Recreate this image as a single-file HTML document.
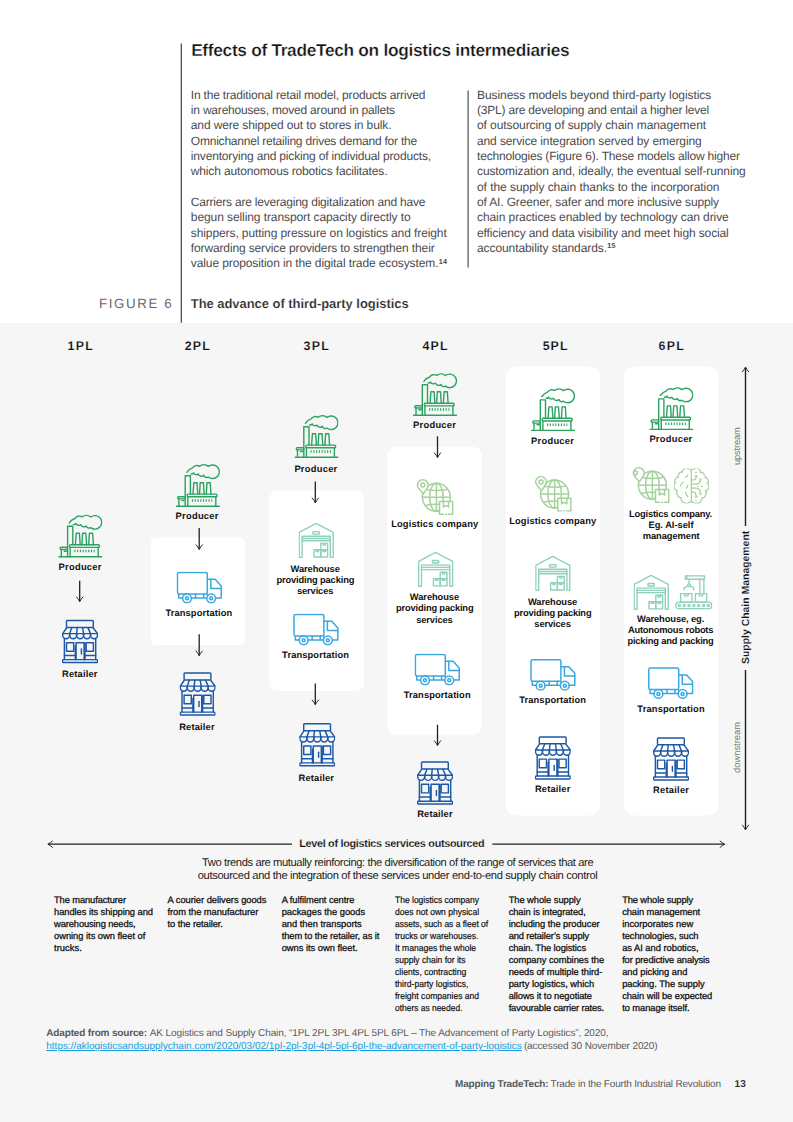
<!DOCTYPE html>
<html lang="en"><head><meta charset="utf-8"><title>Mapping TradeTech - page 13</title>
<style>
html,body{margin:0;padding:0}
body{width:793px;height:1122px;position:relative;overflow:hidden;background:#fff;font-family:"Liberation Sans", sans-serif;text-rendering:geometricPrecision}
.fig{position:absolute;left:0;top:322.8px;width:793px;height:799.2px;background:#f6f6f6}
.t{position:absolute;margin:0;white-space:pre;font-weight:400}
.r{position:absolute;width:0;height:0;transform-origin:0 0}
svg.g{position:absolute;left:0;top:0}
</style></head>
<body>
<div class="fig"></div>
<svg class="g" width="793" height="1122" viewBox="0 0 793 1122">
<defs><symbol id="factory" viewBox="0 0 44 44"><g fill="none" stroke="#2ba360" stroke-width="1.4" stroke-linecap="round" stroke-linejoin="round"><path d="M0.4 42.8H43.5"/><path d="M9.3 42.8V12.3H14.5V30.7"/><path d="M17.1 30.7L17.9 19.3H21.1L21.9 30.7"/><path d="M23.6 30.7L24.3 19.3H27.5L28.3 30.7"/><path d="M30.4 30.7L31.1 19.3H34.3L35.1 30.7"/><rect x="11.3" y="30.7" width="29.8" height="2.7" rx="0.9"/><path d="M11.9 33.4V42.8M39.9 33.4V42.8"/><rect x="1.8" y="33.3" width="7.5" height="2.2" rx="0.9"/><path d="M3 35.5V42.8M6 37.2H8.2"/><path d="M16 37.1H36.4" stroke-width="2.5" stroke-dasharray="1.15 1.62" stroke-linecap="butt"/><path d="M10.9 8.9Q13.2 5.7 16.6 4.5A5 5 0 0 1 23.6 2.9A7 7 0 0 1 32.5 3A6.8 6.8 0 1 1 32.3 13.6A2.8 2.8 0 0 1 28 11.9A3.4 3.4 0 0 1 22.4 10.6A3 3 0 0 1 17.6 9.4A1.8 1.8 0 0 1 15.1 10.4"/></g></symbol><symbol id="store" viewBox="0 0 36 45"><g fill="none" stroke="#1c58a7" stroke-width="1.45" stroke-linejoin="round" stroke-linecap="round"><rect x="4.5" y="1.5" width="26.8" height="6.9" rx="0.8"/><path d="M4.5 9L0.7 14.6H35.5L31.3 9"/><path d="M9.86 8.6L7.66 14.6"/><path d="M15.22 8.6L14.62 14.6"/><path d="M20.58 8.6L21.58 14.6"/><path d="M25.94 8.6L28.54 14.6"/><path d="M0.70 14.6V16.3A3.48 3.48 0 0 0 7.66 16.3V14.6"/><path d="M7.66 14.6V16.3A3.48 3.48 0 0 0 14.62 16.3V14.6"/><path d="M14.62 14.6V16.3A3.48 3.48 0 0 0 21.58 16.3V14.6"/><path d="M21.58 14.6V16.3A3.48 3.48 0 0 0 28.54 16.3V14.6"/><path d="M28.54 14.6V16.3A3.48 3.48 0 0 0 35.50 16.3V14.6"/><path d="M2.4 19.4V40.6M33.7 19.4V40.6"/><rect x="4.5" y="23.7" width="7.2" height="8.6"/><rect x="24.2" y="23.7" width="7.2" height="8.6"/><path d="M14.1 40.6V23.7H22.1V40.6M23 24V40.6M13.3 27V40.6" /><path d="M19.4 30V34.9"/><path d="M2.4 36.5H13.3M23 36.5H33.7"/><rect x="0.6" y="40.6" width="34.9" height="2.9" rx="0.8"/></g></symbol><symbol id="truck" viewBox="0 0 46 32"><g fill="none" stroke="#3aa7e1" stroke-width="1.5" stroke-linejoin="round" stroke-linecap="round"><rect x="1" y="1" width="29.9" height="21.5" rx="1.6"/><path d="M30.9 7.9H38.8L44.8 14.5V26.5H39.3"/><path d="M34.4 7.9V17.2H44.8"/><path d="M2.3 22.5V26.5H6.1M15.1 26.5H30.3M19.2 22.5V26.5M27.2 22.5V26.5M30.9 22.5V24"/><circle cx="10.6" cy="26.9" r="4.4"/><circle cx="10.6" cy="26.9" r="1.5"/><circle cx="34.8" cy="26.9" r="4.4"/><circle cx="34.8" cy="26.9" r="1.5"/></g></symbol><symbol id="globe" viewBox="0 0 38 36"><g fill="none" stroke="#a5d29d" stroke-width="1.5" stroke-linejoin="round" stroke-linecap="round"><circle cx="20.4" cy="18.3" r="14"/><ellipse cx="20.4" cy="18.3" rx="6.8" ry="14"/><path d="M20.4 4.3V32.3M6.4 18.3H34.4"/><path d="M9.2 10.2Q20.4 12.6 31.6 10.2M9.2 26.4Q20.4 24 31.6 26.4"/><path d="M6.8 0.8A5.4 5.4 0 0 1 12.2 6.2C12.2 9.4 8.6 12.4 7.4 14.8C5.6 12.2 1.4 9.4 1.4 6.2A5.4 5.4 0 0 1 6.8 0.8Z" fill="#fff"/><circle cx="6.8" cy="6.1" r="2"/><rect x="23.5" y="22.4" width="13.2" height="12.9" fill="#fff" stroke="none"/><path d="M27.3 35.3H23.5V22.4H36.7V35.3H32.6M29.6 35.3H30.4"/><path d="M27.3 22.4V28.1L29.95 26.4L32.6 28.1V22.4"/></g></symbol><symbol id="globe2" viewBox="0 0 38 36"><g fill="none" stroke="#a5d29d" stroke-width="1.5" stroke-linejoin="round" stroke-linecap="round"><circle cx="20.4" cy="18.3" r="14"/><ellipse cx="20.4" cy="18.3" rx="6.8" ry="14"/><path d="M20.4 4.3V32.3M6.4 18.3H34.4"/><path d="M9.2 10.2Q20.4 12.6 31.6 10.2M9.2 26.4Q20.4 24 31.6 26.4"/><path d="M6.8 0.8A5.4 5.4 0 0 1 12.2 6.2C12.2 9.4 8.6 12.4 7.4 14.8C5.6 12.2 1.4 9.4 1.4 6.2A5.4 5.4 0 0 1 6.8 0.8Z" fill="#fff"/><circle cx="3.5" cy="6.1" r="2"/><rect x="23.5" y="22.4" width="13.2" height="12.9" fill="#fff" stroke="none"/><path d="M27.3 35.3H23.5V22.4H36.7V35.3H32.6M29.6 35.3H30.4"/><path d="M27.3 22.4V28.1L29.95 26.4L32.6 28.1V22.4"/></g></symbol><symbol id="warehouse" viewBox="0 0 36 36"><g fill="none" stroke="#8fd2ba" stroke-width="1.4" stroke-linejoin="round" stroke-linecap="round"><path d="M0.6 34.8V9.8L17.5 0.8L34.6 9.8V34.8H31.7V13.6H3.5V34.8Z"/><path d="M3.5 15.9H31.7M3.5 18.1H31.7"/><rect x="14.4" y="9" width="6.3" height="2.5" rx="0.4"/><rect x="22.2" y="20.8" width="6.8" height="6.4"/><path d="M24.50 20.8V22.5H26.70V20.8"/><rect x="15.4" y="27.2" width="6.8" height="7.2"/><path d="M17.70 27.2V28.9H19.90V27.2"/><rect x="22.2" y="27.2" width="6.8" height="7.2"/><path d="M24.50 27.2V28.9H26.70V27.2"/></g></symbol><symbol id="brain" viewBox="0 0 35 35"><g fill="none" stroke="#a5d29d" stroke-width="1.25" stroke-linejoin="round" stroke-linecap="round"><path d="M17.37 2.66A2.28 2.28 0 0 0 14.31 0.60A2.76 2.76 0 0 0 9.87 0.99A2.01 2.01 0 0 0 8.21 3.77A2.16 2.16 0 0 0 5.16 5.43A2.09 2.09 0 0 0 4.60 8.76A2.24 2.24 0 0 0 1.55 10.70A2.24 2.24 0 0 0 1.55 14.31A2.01 2.01 0 0 0 0.44 17.36A2.62 2.62 0 0 0 2.10 21.25A1.10 1.10 0 0 0 3.49 22.36A2.41 2.41 0 0 0 3.49 26.24A2.96 2.96 0 0 0 7.38 29.02A1.75 1.75 0 0 0 7.93 31.79A2.45 2.45 0 0 0 10.98 34.29A2.43 2.43 0 0 0 14.87 33.73A1.96 1.96 0 0 0 17.37 31.79"/><path d="M17.37 2.66A2.28 2.28 0 0 1 20.42 0.60A2.76 2.76 0 0 1 24.86 0.99A2.08 2.08 0 0 1 26.24 4.04A2.54 2.54 0 0 1 29.85 5.99A2.18 2.18 0 0 1 30.96 9.32A2.10 2.10 0 0 1 33.74 11.26A2.26 2.26 0 0 1 33.18 14.87A2.08 2.08 0 0 1 34.57 17.92A2.31 2.31 0 0 1 32.90 21.25A1.24 1.24 0 0 1 31.24 22.36A2.59 2.59 0 0 1 31.52 26.52A2.72 2.72 0 0 1 27.91 29.02A1.80 1.80 0 0 1 27.08 31.79A2.58 2.58 0 0 1 23.75 34.29A2.43 2.43 0 0 1 19.86 33.73A1.96 1.96 0 0 1 17.37 31.79"/><path d="M17.37 2.66V31.79"/><path d="M17.37 11.26H20.14Q22.08 11.15 22.08 8.59"/><circle cx="22.08" cy="7.65" r="1.05" stroke-width="0.9"/><path d="M17.37 15.70H22.64Q25.97 15.42 26.30 11.92"/><circle cx="26.41" cy="10.98" r="1.05" stroke-width="0.9"/><path d="M17.37 19.58H22.64Q25.97 20.03 26.30 24.19"/><circle cx="26.41" cy="25.13" r="1.05" stroke-width="0.9"/><path d="M17.37 23.74H19.86Q21.97 24.02 22.08 27.24"/><circle cx="22.08" cy="28.18" r="1.05" stroke-width="0.9"/><path d="M24.02 17.92h0.4M27.35 17.92h1.2M21.53 3.77h1M21.53 31.79h0.8" /><path d="M11.26 8.93Q13.48 8.21 13.87 6.37M6.43 17.47Q6.82 14.59 9.43 13.76M12.37 19.47Q13.76 18.47 13.76 16.81M11.43 23.74Q11.82 26.24 13.76 28.02"/></g></symbol><symbol id="robot" viewBox="0 0 37.5 35"><g fill="none" stroke="#8fd2ba" stroke-width="1.35" stroke-linejoin="round" stroke-linecap="round"><rect x="0.7" y="27.6" width="36.1" height="6.6" rx="3.3"/><circle cx="4.30" cy="30.9" r="1.05"/><circle cx="9.15" cy="30.9" r="1.05"/><circle cx="14.00" cy="30.9" r="1.05"/><circle cx="18.85" cy="30.9" r="1.05"/><circle cx="23.70" cy="30.9" r="1.05"/><circle cx="28.55" cy="30.9" r="1.05"/><circle cx="33.40" cy="30.9" r="1.05"/><rect x="5.6" y="19.1" width="11.4" height="8.5"/><path d="M9.60 19.1V21.3H13.00V19.1"/><rect x="20.4" y="19.1" width="11.3" height="8.5"/><path d="M24.35 19.1V21.3H27.75V19.1"/><rect x="10.2" y="1.3" width="19.3" height="3.4"/><path d="M24.9 4.7V19.1M28.9 4.7V19.1M12 1.3V4.7"/><path d="M14.1 4.7V9.3"/><circle cx="14.1" cy="10.8" r="1.5"/><path d="M12.9 11.7L9 13.4V15.6M15.3 11.7L18.8 13.4V15.6"/></g></symbol></defs>
<rect x="150.8" y="537.6" width="94.6" height="107.4" rx="5.5" fill="#fff"/>
<rect x="269.2" y="490.7" width="94.8" height="200.3" rx="8" fill="#fff"/>
<rect x="387.4" y="446.8" width="94.6" height="288.0" rx="9" fill="#fff"/>
<rect x="505.8" y="366.4" width="94.5" height="449.1" rx="11" fill="#fff"/>
<rect x="623.9" y="366.4" width="94.5" height="449.1" rx="11" fill="#fff"/>
<path d="M181.3 43.6V322.8" stroke="#414042" stroke-width="1.2"/>
<path d="M468.1 90.5V267.4" stroke="#414042" stroke-width="1.1"/>
<path d="M79.7 580.8V601.4000000000001" fill="none" stroke="#231f20" stroke-width="1.3"/><path d="M76.55 597.00Q78.60 599.30 79.7 601.7Q80.80 599.30 82.85 597.00" fill="none" stroke="#231f20" stroke-width="0.95" stroke-linecap="round"/>
<path d="M199.2 528.0V549.2" fill="none" stroke="#231f20" stroke-width="1.3"/><path d="M196.05 544.80Q198.10 547.10 199.2 549.5Q200.30 547.10 202.35 544.80" fill="none" stroke="#231f20" stroke-width="0.95" stroke-linecap="round"/>
<path d="M199.2 634.2V655.4000000000001" fill="none" stroke="#231f20" stroke-width="1.3"/><path d="M196.05 651.00Q198.10 653.30 199.2 655.7Q200.30 653.30 202.35 651.00" fill="none" stroke="#231f20" stroke-width="0.95" stroke-linecap="round"/>
<path d="M315.3 481.4V502.5" fill="none" stroke="#231f20" stroke-width="1.3"/><path d="M312.15 498.10Q314.20 500.40 315.3 502.8Q316.40 500.40 318.45 498.10" fill="none" stroke="#231f20" stroke-width="0.95" stroke-linecap="round"/>
<path d="M315.3 683.4V704.4000000000001" fill="none" stroke="#231f20" stroke-width="1.3"/><path d="M312.15 700.00Q314.20 702.30 315.3 704.7Q316.40 702.30 318.45 700.00" fill="none" stroke="#231f20" stroke-width="0.95" stroke-linecap="round"/>
<path d="M437.5 436.3V457.3" fill="none" stroke="#231f20" stroke-width="1.3"/><path d="M434.35 452.90Q436.40 455.20 437.5 457.6Q438.60 455.20 440.65 452.90" fill="none" stroke="#231f20" stroke-width="0.95" stroke-linecap="round"/>
<path d="M437.5 724.7V745.2" fill="none" stroke="#231f20" stroke-width="1.3"/><path d="M434.35 740.80Q436.40 743.10 437.5 745.5Q438.60 743.10 440.65 740.80" fill="none" stroke="#231f20" stroke-width="0.95" stroke-linecap="round"/>
<path d="M745.5 526V367.4" fill="none" stroke="#231f20" stroke-width="1.4"/><path d="M742.35 371.80Q744.40 369.50 745.5 367.1Q746.60 369.50 748.65 371.80" fill="none" stroke="#231f20" stroke-width="0.95" stroke-linecap="round"/>
<path d="M745.5 670V829.5" fill="none" stroke="#231f20" stroke-width="1.4"/><path d="M742.35 825.10Q744.40 827.40 745.5 829.8Q746.60 827.40 748.65 825.10" fill="none" stroke="#231f20" stroke-width="0.95" stroke-linecap="round"/>
<path d="M292 844.2H48.1" fill="none" stroke="#231f20" stroke-width="1.3"/><path d="M52.50 841.05Q50.20 843.10 47.8 844.2Q50.20 845.30 52.50 847.35" fill="none" stroke="#231f20" stroke-width="0.95" stroke-linecap="round"/>
<path d="M492.3 844.2H724.5" fill="none" stroke="#231f20" stroke-width="1.3"/><path d="M720.10 841.05Q722.40 843.10 724.8 844.2Q722.40 845.30 720.10 847.35" fill="none" stroke="#231f20" stroke-width="0.95" stroke-linecap="round"/>
<use href="#factory" x="58.3" y="514.0" width="44" height="44"/>
<use href="#factory" x="175.9" y="463.4" width="44" height="44"/>
<use href="#factory" x="294.5" y="414.4" width="44" height="44"/>
<use href="#factory" x="413.0" y="372.5" width="44" height="44"/>
<use href="#factory" x="531.0" y="387.6" width="44" height="44"/>
<use href="#factory" x="649.4" y="386.6" width="44" height="44"/>
<use href="#store" x="62.0" y="619.0" width="36" height="45"/>
<use href="#store" x="179.6" y="671.5" width="36" height="45"/>
<use href="#store" x="299.2" y="722.3" width="36" height="45"/>
<use href="#store" x="417.0" y="760.6" width="36" height="45"/>
<use href="#store" x="534.8" y="735.4" width="36" height="45"/>
<use href="#store" x="653.0" y="736.4" width="36" height="45"/>
<use href="#truck" x="176.4" y="571.4" width="46" height="32"/>
<use href="#truck" x="293.0" y="613.4" width="46" height="32"/>
<use href="#truck" x="414.4" y="653.4" width="46" height="32"/>
<use href="#truck" x="530.0" y="658.8" width="46" height="32"/>
<use href="#truck" x="647.8" y="667.0" width="46" height="32"/>
<use href="#globe" x="416.0" y="479.0" width="38" height="36"/>
<use href="#globe" x="534.2" y="475.8" width="38" height="36"/>
<use href="#globe2" x="632.0" y="467.0" width="38" height="36"/>
<use href="#warehouse" x="298.6" y="522.6" width="36" height="36"/>
<use href="#warehouse" x="418.0" y="551.5" width="36" height="36"/>
<use href="#warehouse" x="535.2" y="555.6" width="36" height="36"/>
<use href="#warehouse" x="633.6" y="574.5" width="36" height="36"/>
<use href="#brain" x="674.0" y="468.5" width="35" height="35"/>
<use href="#robot" x="675.0" y="574.5" width="37.5" height="35"/>
</svg>
<h1 class="t" style="font-size:17.3px;line-height:22px;font-weight:700;color:#111;letter-spacing:-0.298px;-webkit-text-stroke:0.3px #fff;left:191.13px;top:39px;">Effects of TradeTech on logistics intermediaries</h1>
<span class="t" style="font-size:12px;line-height:15px;color:#4b4b4d;letter-spacing:-0.185px;left:190.80px;top:88px;">In the traditional retail model, products arrived</span>
<span class="t" style="font-size:12px;line-height:15px;color:#4b4b4d;letter-spacing:-0.194px;left:190.80px;top:103px;">in warehouses, moved around in pallets</span>
<span class="t" style="font-size:12px;line-height:15px;color:#4b4b4d;letter-spacing:-0.126px;left:190.80px;top:118px;">and were shipped out to stores in bulk.</span>
<span class="t" style="font-size:12px;line-height:15px;color:#4b4b4d;letter-spacing:-0.216px;left:190.80px;top:134px;">Omnichannel retailing drives demand for the</span>
<span class="t" style="font-size:12px;line-height:15px;color:#4b4b4d;letter-spacing:-0.168px;left:190.80px;top:149px;">inventorying and picking of individual products,</span>
<span class="t" style="font-size:12px;line-height:15px;color:#4b4b4d;letter-spacing:-0.147px;left:190.80px;top:164px;">which autonomous robotics facilitates.</span>
<span class="t" style="font-size:12px;line-height:15px;color:#4b4b4d;letter-spacing:-0.208px;left:190.80px;top:195px;">Carriers are leveraging digitalization and have</span>
<span class="t" style="font-size:12px;line-height:15px;color:#4b4b4d;letter-spacing:-0.085px;left:190.80px;top:210px;">begun selling transport capacity directly to</span>
<span class="t" style="font-size:12px;line-height:15px;color:#4b4b4d;letter-spacing:-0.097px;left:190.80px;top:226px;">shippers, putting pressure on logistics and freight</span>
<span class="t" style="font-size:12px;line-height:15px;color:#4b4b4d;letter-spacing:-0.133px;left:190.80px;top:241px;">forwarding service providers to strengthen their</span>
<span class="t" style="font-size:12px;line-height:15px;color:#4b4b4d;letter-spacing:-0.107px;left:190.80px;top:256px;">value proposition in the digital trade ecosystem.</span>
<span class="t" style="font-size:7.2px;line-height:9px;font-weight:700;color:#4b4b4d;letter-spacing:0.248px;left:438.74px;top:257px;">14</span>
<span class="t" style="font-size:12px;line-height:15px;color:#4b4b4d;letter-spacing:-0.058px;left:477.00px;top:88px;">Business models beyond third-party logistics</span>
<span class="t" style="font-size:12px;line-height:15px;color:#4b4b4d;letter-spacing:-0.207px;left:477.00px;top:103px;">(3PL) are developing and entail a higher level</span>
<span class="t" style="font-size:12px;line-height:15px;color:#4b4b4d;letter-spacing:-0.077px;left:477.00px;top:118px;">of outsourcing of supply chain management</span>
<span class="t" style="font-size:12px;line-height:15px;color:#4b4b4d;letter-spacing:-0.117px;left:477.00px;top:134px;">and service integration served by emerging</span>
<span class="t" style="font-size:12px;line-height:15px;color:#4b4b4d;letter-spacing:-0.182px;left:477.00px;top:149px;">technologies (Figure 6). These models allow higher</span>
<span class="t" style="font-size:12px;line-height:15px;color:#4b4b4d;letter-spacing:-0.114px;left:477.00px;top:164px;">customization and, ideally, the eventual self-running</span>
<span class="t" style="font-size:12px;line-height:15px;color:#4b4b4d;letter-spacing:-0.051px;left:477.00px;top:180px;">of the supply chain thanks to the incorporation</span>
<span class="t" style="font-size:12px;line-height:15px;color:#4b4b4d;letter-spacing:-0.148px;left:477.00px;top:195px;">of AI. Greener, safer and more inclusive supply</span>
<span class="t" style="font-size:12px;line-height:15px;color:#4b4b4d;letter-spacing:-0.081px;left:477.00px;top:210px;">chain practices enabled by technology can drive</span>
<span class="t" style="font-size:12px;line-height:15px;color:#4b4b4d;letter-spacing:-0.123px;left:477.00px;top:226px;">efficiency and data visibility and meet high social</span>
<span class="t" style="font-size:12px;line-height:15px;color:#4b4b4d;letter-spacing:-0.087px;left:477.00px;top:241px;">accountability standards.</span>
<span class="t" style="font-size:7.2px;line-height:9px;font-weight:700;color:#4b4b4d;letter-spacing:0.248px;left:607.24px;top:241px;">15</span>
<span class="t" style="font-size:13.3px;line-height:17px;color:#67686b;letter-spacing:1.638px;left:98.93px;top:295px;">FIGURE 6</span>
<span class="t" style="font-size:13px;line-height:17px;font-weight:700;color:#2b2b2b;letter-spacing:-0.047px;-webkit-text-stroke:0.15px #fff;left:190.75px;top:295px;">The advance of third-party logistics</span>
<span class="t" style="font-size:12.4px;line-height:16px;font-weight:700;color:#111;letter-spacing:1.291px;-webkit-text-stroke:0.15px #f5f5f5;left:67.48px;top:338px;">1PL</span>
<span class="t" style="font-size:12.4px;line-height:16px;font-weight:700;color:#111;letter-spacing:1.141px;-webkit-text-stroke:0.15px #f5f5f5;left:184.78px;top:338px;">2PL</span>
<span class="t" style="font-size:12.4px;line-height:16px;font-weight:700;color:#111;letter-spacing:1.341px;-webkit-text-stroke:0.15px #f5f5f5;left:303.48px;top:338px;">3PL</span>
<span class="t" style="font-size:12.4px;line-height:16px;font-weight:700;color:#111;letter-spacing:1.241px;-webkit-text-stroke:0.15px #f5f5f5;left:422.38px;top:338px;">4PL</span>
<span class="t" style="font-size:12.4px;line-height:16px;font-weight:700;color:#111;letter-spacing:1.041px;-webkit-text-stroke:0.15px #f5f5f5;left:542.68px;top:338px;">5PL</span>
<span class="t" style="font-size:12.4px;line-height:16px;font-weight:700;color:#111;letter-spacing:1.291px;-webkit-text-stroke:0.15px #f5f5f5;left:658.58px;top:338px;">6PL</span>
<span class="t" style="font-size:9.33px;line-height:12px;font-weight:700;color:#111;letter-spacing:0.270px;left:58.58px;top:561px;">Producer</span>
<span class="t" style="font-size:9.33px;line-height:12px;font-weight:700;color:#111;letter-spacing:0.172px;left:61.98px;top:668px;">Retailer</span>
<span class="t" style="font-size:9.33px;line-height:12px;font-weight:700;color:#111;letter-spacing:0.270px;left:175.58px;top:510px;">Producer</span>
<span class="t" style="font-size:9.33px;line-height:12px;font-weight:700;color:#111;letter-spacing:0.117px;left:165.38px;top:607px;">Transportation</span>
<span class="t" style="font-size:9.33px;line-height:12px;font-weight:700;color:#111;letter-spacing:0.172px;left:179.18px;top:721px;">Retailer</span>
<span class="t" style="font-size:9.33px;line-height:12px;font-weight:700;color:#111;letter-spacing:0.270px;left:294.38px;top:463px;">Producer</span>
<span class="t" style="font-size:9.33px;line-height:12px;font-weight:700;color:#111;letter-spacing:-0.075px;left:290.53px;top:563px;">Warehouse</span>
<span class="t" style="font-size:9.33px;line-height:12px;font-weight:700;color:#111;letter-spacing:-0.144px;left:276.38px;top:574px;">providing packing</span>
<span class="t" style="font-size:9.33px;line-height:12px;font-weight:700;color:#111;letter-spacing:-0.117px;left:296.93px;top:585px;">services</span>
<span class="t" style="font-size:9.33px;line-height:12px;font-weight:700;color:#111;letter-spacing:0.117px;left:282.08px;top:649px;">Transportation</span>
<span class="t" style="font-size:9.33px;line-height:12px;font-weight:700;color:#111;letter-spacing:0.172px;left:298.48px;top:772px;">Retailer</span>
<span class="t" style="font-size:9.33px;line-height:12px;font-weight:700;color:#111;letter-spacing:0.270px;left:413.08px;top:419px;">Producer</span>
<span class="t" style="font-size:9.33px;line-height:12px;font-weight:700;color:#111;letter-spacing:0.165px;left:391.13px;top:518px;">Logistics company</span>
<span class="t" style="font-size:9.33px;line-height:12px;font-weight:700;color:#111;letter-spacing:-0.075px;left:409.83px;top:591px;">Warehouse</span>
<span class="t" style="font-size:9.33px;line-height:12px;font-weight:700;color:#111;letter-spacing:-0.169px;left:395.98px;top:602px;">providing packing</span>
<span class="t" style="font-size:9.33px;line-height:12px;font-weight:700;color:#111;letter-spacing:-0.117px;left:416.23px;top:614px;">services</span>
<span class="t" style="font-size:9.33px;line-height:12px;font-weight:700;color:#111;letter-spacing:0.117px;left:403.78px;top:689px;">Transportation</span>
<span class="t" style="font-size:9.33px;line-height:12px;font-weight:700;color:#111;letter-spacing:0.172px;left:417.18px;top:808px;">Retailer</span>
<span class="t" style="font-size:9.33px;line-height:12px;font-weight:700;color:#111;letter-spacing:0.270px;left:531.08px;top:435px;">Producer</span>
<span class="t" style="font-size:9.33px;line-height:12px;font-weight:700;color:#111;letter-spacing:0.165px;left:509.13px;top:515px;">Logistics company</span>
<span class="t" style="font-size:9.33px;line-height:12px;font-weight:700;color:#111;letter-spacing:-0.075px;left:527.93px;top:596px;">Warehouse</span>
<span class="t" style="font-size:9.33px;line-height:12px;font-weight:700;color:#111;letter-spacing:-0.169px;left:513.98px;top:607px;">providing packing</span>
<span class="t" style="font-size:9.33px;line-height:12px;font-weight:700;color:#111;letter-spacing:-0.117px;left:534.33px;top:618px;">services</span>
<span class="t" style="font-size:9.33px;line-height:12px;font-weight:700;color:#111;letter-spacing:0.117px;left:519.18px;top:694px;">Transportation</span>
<span class="t" style="font-size:9.33px;line-height:12px;font-weight:700;color:#111;letter-spacing:0.172px;left:534.88px;top:783px;">Retailer</span>
<span class="t" style="font-size:9.33px;line-height:12px;font-weight:700;color:#111;letter-spacing:0.270px;left:649.38px;top:433px;">Producer</span>
<span class="t" style="font-size:9.33px;line-height:12px;font-weight:700;color:#111;letter-spacing:-0.191px;left:629.03px;top:508px;">Logistics company.</span>
<span class="t" style="font-size:9.33px;line-height:12px;font-weight:700;color:#111;letter-spacing:-0.013px;left:648.43px;top:519px;">Eg. AI-self</span>
<span class="t" style="font-size:9.33px;line-height:12px;font-weight:700;color:#111;letter-spacing:-0.067px;left:642.73px;top:530px;">management</span>
<span class="t" style="font-size:9.33px;line-height:12px;font-weight:700;color:#111;letter-spacing:-0.105px;left:637.08px;top:613px;">Warehouse, eg.</span>
<span class="t" style="font-size:9.33px;line-height:12px;font-weight:700;color:#111;letter-spacing:-0.230px;left:627.98px;top:624px;">Autonomous robots</span>
<span class="t" style="font-size:9.33px;line-height:12px;font-weight:700;color:#111;letter-spacing:-0.185px;left:627.43px;top:635px;">picking and packing</span>
<span class="t" style="font-size:9.33px;line-height:12px;font-weight:700;color:#111;letter-spacing:0.156px;left:637.33px;top:703px;">Transportation</span>
<span class="t" style="font-size:9.33px;line-height:12px;font-weight:700;color:#111;letter-spacing:0.244px;left:653.03px;top:784px;">Retailer</span>
<span class="t" style="font-size:10.8px;line-height:14px;font-weight:700;color:#111;letter-spacing:-0.274px;-webkit-text-stroke:0.15px #f5f5f5;left:299.16px;top:837px;">Level of logistics services outsourced</span>
<span class="t" style="font-size:11.2px;line-height:14px;color:#222;letter-spacing:-0.399px;left:201.94px;top:856px;">Two trends are mutually reinforcing: the diversification of the range of services that are</span>
<span class="t" style="font-size:11.2px;line-height:14px;color:#222;letter-spacing:-0.341px;left:197.64px;top:869px;">outsourced and the integration of these services under end-to-end supply chain control</span>
<div class="r" style="left:740px;top:464.90px;transform:rotate(-90deg)"><span class="t" style="font-size:9.33px;line-height:12px;color:#777;letter-spacing:-0.164px;left:0;top:-9px;">upstream</span></div>
<div class="r" style="left:740px;top:772.70px;transform:rotate(-90deg)"><span class="t" style="font-size:9.33px;line-height:12px;color:#777;letter-spacing:0.025px;left:0;top:-9px;">downstream</span></div>
<div class="r" style="left:749px;top:664.30px;transform:rotate(-90deg)"><span class="t" style="font-size:10.4px;line-height:13px;font-weight:700;color:#111;letter-spacing:0.020px;-webkit-text-stroke:0.15px #f5f5f5;left:0;top:-9px;">Supply Chain Management</span></div>
<span class="t" style="font-size:9.33px;line-height:12px;color:#111;letter-spacing:-0.106px;-webkit-text-stroke:0.28px #111;left:54.03px;top:894px;">The manufacturer</span>
<span class="t" style="font-size:9.33px;line-height:12px;color:#111;letter-spacing:-0.050px;-webkit-text-stroke:0.28px #111;left:54.03px;top:906px;">handles its shipping and</span>
<span class="t" style="font-size:9.33px;line-height:12px;color:#111;letter-spacing:-0.109px;-webkit-text-stroke:0.28px #111;left:54.03px;top:918px;">warehousing needs,</span>
<span class="t" style="font-size:9.33px;line-height:12px;color:#111;letter-spacing:-0.020px;-webkit-text-stroke:0.28px #111;left:54.03px;top:930px;">owning its own fleet of</span>
<span class="t" style="font-size:9.33px;line-height:12px;color:#111;letter-spacing:0.059px;-webkit-text-stroke:0.28px #111;left:54.03px;top:942px;">trucks.</span>
<span class="t" style="font-size:9.33px;line-height:12px;color:#111;letter-spacing:-0.027px;-webkit-text-stroke:0.28px #111;left:167.53px;top:894px;">A courier delivers goods</span>
<span class="t" style="font-size:9.33px;line-height:12px;color:#111;letter-spacing:-0.051px;-webkit-text-stroke:0.28px #111;left:167.53px;top:906px;">from the manufacturer</span>
<span class="t" style="font-size:9.33px;line-height:12px;color:#111;letter-spacing:-0.079px;-webkit-text-stroke:0.28px #111;left:167.53px;top:918px;">to the retailer.</span>
<span class="t" style="font-size:9.33px;line-height:12px;color:#111;letter-spacing:-0.073px;-webkit-text-stroke:0.28px #111;left:281.63px;top:894px;">A fulfilment centre</span>
<span class="t" style="font-size:9.33px;line-height:12px;color:#111;-webkit-text-stroke:0.28px #111;left:281.63px;top:906px;">packages the goods</span>
<span class="t" style="font-size:9.33px;line-height:12px;color:#111;letter-spacing:-0.014px;-webkit-text-stroke:0.28px #111;left:281.63px;top:918px;">and then transports</span>
<span class="t" style="font-size:9.33px;line-height:12px;color:#111;letter-spacing:-0.070px;-webkit-text-stroke:0.28px #111;left:281.63px;top:930px;">them to the retailer, as it</span>
<span class="t" style="font-size:9.33px;line-height:12px;color:#111;letter-spacing:-0.016px;-webkit-text-stroke:0.28px #111;left:281.63px;top:942px;">owns its own fleet.</span>
<span class="t" style="font-size:9.33px;line-height:12px;color:#111;-webkit-text-stroke:0.2px #111;left:395.13px;top:894px;transform:scaleX(0.9105);transform-origin:0 50%;">The logistics company</span>
<span class="t" style="font-size:9.33px;line-height:12px;color:#111;-webkit-text-stroke:0.2px #111;left:395.13px;top:906px;transform:scaleX(0.9155);transform-origin:0 50%;">does not own physical</span>
<span class="t" style="font-size:9.33px;line-height:12px;color:#111;-webkit-text-stroke:0.2px #111;left:395.13px;top:918px;transform:scaleX(0.9072);transform-origin:0 50%;">assets, such as a fleet of</span>
<span class="t" style="font-size:9.33px;line-height:12px;color:#111;-webkit-text-stroke:0.2px #111;left:395.13px;top:930px;transform:scaleX(0.9144);transform-origin:0 50%;">trucks or warehouses.</span>
<span class="t" style="font-size:9.33px;line-height:12px;color:#111;-webkit-text-stroke:0.2px #111;left:395.13px;top:942px;transform:scaleX(0.9138);transform-origin:0 50%;">It manages the whole</span>
<span class="t" style="font-size:9.33px;line-height:12px;color:#111;-webkit-text-stroke:0.2px #111;left:395.13px;top:954px;transform:scaleX(0.9117);transform-origin:0 50%;">supply chain for its</span>
<span class="t" style="font-size:9.33px;line-height:12px;color:#111;-webkit-text-stroke:0.2px #111;left:395.13px;top:966px;transform:scaleX(0.9233);transform-origin:0 50%;">clients, contracting</span>
<span class="t" style="font-size:9.33px;line-height:12px;color:#111;-webkit-text-stroke:0.2px #111;left:395.13px;top:978px;transform:scaleX(0.9139);transform-origin:0 50%;">third-party logistics,</span>
<span class="t" style="font-size:9.33px;line-height:12px;color:#111;-webkit-text-stroke:0.2px #111;left:395.13px;top:990px;transform:scaleX(0.9155);transform-origin:0 50%;">freight companies and</span>
<span class="t" style="font-size:9.33px;line-height:12px;color:#111;-webkit-text-stroke:0.2px #111;left:395.13px;top:1002px;transform:scaleX(0.9030);transform-origin:0 50%;">others as needed.</span>
<span class="t" style="font-size:9.33px;line-height:12px;color:#111;letter-spacing:-0.044px;-webkit-text-stroke:0.28px #111;left:508.63px;top:894px;">The whole supply</span>
<span class="t" style="font-size:9.33px;line-height:12px;color:#111;letter-spacing:-0.062px;-webkit-text-stroke:0.28px #111;left:508.63px;top:906px;">chain is integrated,</span>
<span class="t" style="font-size:9.33px;line-height:12px;color:#111;letter-spacing:-0.036px;-webkit-text-stroke:0.28px #111;left:508.63px;top:918px;">including the producer</span>
<span class="t" style="font-size:9.33px;line-height:12px;color:#111;letter-spacing:-0.135px;-webkit-text-stroke:0.28px #111;left:508.63px;top:930px;">and retailer’s supply</span>
<span class="t" style="font-size:9.33px;line-height:12px;color:#111;letter-spacing:-0.091px;-webkit-text-stroke:0.28px #111;left:508.63px;top:942px;">chain. The logistics</span>
<span class="t" style="font-size:9.33px;line-height:12px;color:#111;letter-spacing:-0.021px;-webkit-text-stroke:0.28px #111;left:508.63px;top:954px;">company combines the</span>
<span class="t" style="font-size:9.33px;line-height:12px;color:#111;letter-spacing:-0.028px;-webkit-text-stroke:0.28px #111;left:508.63px;top:966px;">needs of multiple third-</span>
<span class="t" style="font-size:9.33px;line-height:12px;color:#111;-webkit-text-stroke:0.28px #111;left:508.63px;top:978px;">party logistics, which</span>
<span class="t" style="font-size:9.33px;line-height:12px;color:#111;letter-spacing:-0.052px;-webkit-text-stroke:0.28px #111;left:508.63px;top:990px;">allows it to negotiate</span>
<span class="t" style="font-size:9.33px;line-height:12px;color:#111;letter-spacing:-0.124px;-webkit-text-stroke:0.28px #111;left:508.63px;top:1002px;">favourable carrier rates.</span>
<span class="t" style="font-size:9.33px;line-height:12px;color:#111;letter-spacing:-0.104px;-webkit-text-stroke:0.28px #111;left:622.13px;top:894px;">The whole supply</span>
<span class="t" style="font-size:9.33px;line-height:12px;color:#111;letter-spacing:-0.087px;-webkit-text-stroke:0.28px #111;left:622.13px;top:906px;">chain management</span>
<span class="t" style="font-size:9.33px;line-height:12px;color:#111;-webkit-text-stroke:0.28px #111;left:622.13px;top:918px;">incorporates new</span>
<span class="t" style="font-size:9.33px;line-height:12px;color:#111;letter-spacing:-0.050px;-webkit-text-stroke:0.28px #111;left:622.13px;top:930px;">technologies, such</span>
<span class="t" style="font-size:9.33px;line-height:12px;color:#111;letter-spacing:-0.017px;-webkit-text-stroke:0.28px #111;left:622.13px;top:942px;">as AI and robotics,</span>
<span class="t" style="font-size:9.33px;line-height:12px;color:#111;letter-spacing:-0.094px;-webkit-text-stroke:0.28px #111;left:622.13px;top:954px;">for predictive analysis</span>
<span class="t" style="font-size:9.33px;line-height:12px;color:#111;letter-spacing:-0.009px;-webkit-text-stroke:0.28px #111;left:622.13px;top:966px;">and picking and</span>
<span class="t" style="font-size:9.33px;line-height:12px;color:#111;letter-spacing:-0.014px;-webkit-text-stroke:0.28px #111;left:622.13px;top:978px;">packing. The supply</span>
<span class="t" style="font-size:9.33px;line-height:12px;color:#111;letter-spacing:-0.054px;-webkit-text-stroke:0.28px #111;left:622.13px;top:990px;">chain will be expected</span>
<span class="t" style="font-size:9.33px;line-height:12px;color:#111;letter-spacing:-0.063px;-webkit-text-stroke:0.28px #111;left:622.13px;top:1002px;">to manage itself.</span>
<span class="t" style="font-size:10px;line-height:13px;font-weight:700;color:#58595b;letter-spacing:-0.163px;left:46.30px;top:1027px;">Adapted from source:</span>
<span class="t" style="font-size:10px;line-height:13px;color:#58595b;letter-spacing:-0.098px;left:149.80px;top:1027px;">AK Logistics and Supply Chain, “1PL 2PL 3PL 4PL 5PL 6PL – The Advancement of Party Logistics”, 2020,</span>
<span class="t" style="font-size:10px;line-height:13px;color:#0f9fe0;letter-spacing:-0.008px;text-decoration:underline;text-decoration-thickness:0.8px;text-underline-offset:1.2px;left:46.30px;top:1040px;">https://aklogisticsandsupplychain.com/2020/03/02/1pl-2pl-3pl-4pl-5pl-6pl-the-advancement-of-party-logistics</span>
<span class="t" style="font-size:10px;line-height:13px;color:#58595b;letter-spacing:-0.117px;left:523.90px;top:1040px;">(accessed 30 November 2020)</span>
<span class="t" style="font-size:10px;line-height:13px;font-weight:700;color:#58595b;letter-spacing:-0.171px;left:455.00px;top:1078px;">Mapping TradeTech:</span>
<span class="t" style="font-size:10px;line-height:13px;color:#58595b;letter-spacing:-0.192px;left:550.60px;top:1078px;">Trade in the Fourth Industrial Revolution</span>
<span class="t" style="font-size:10px;line-height:13px;font-weight:700;color:#333;letter-spacing:0.175px;left:734.50px;top:1078px;">13</span>
</body></html>
